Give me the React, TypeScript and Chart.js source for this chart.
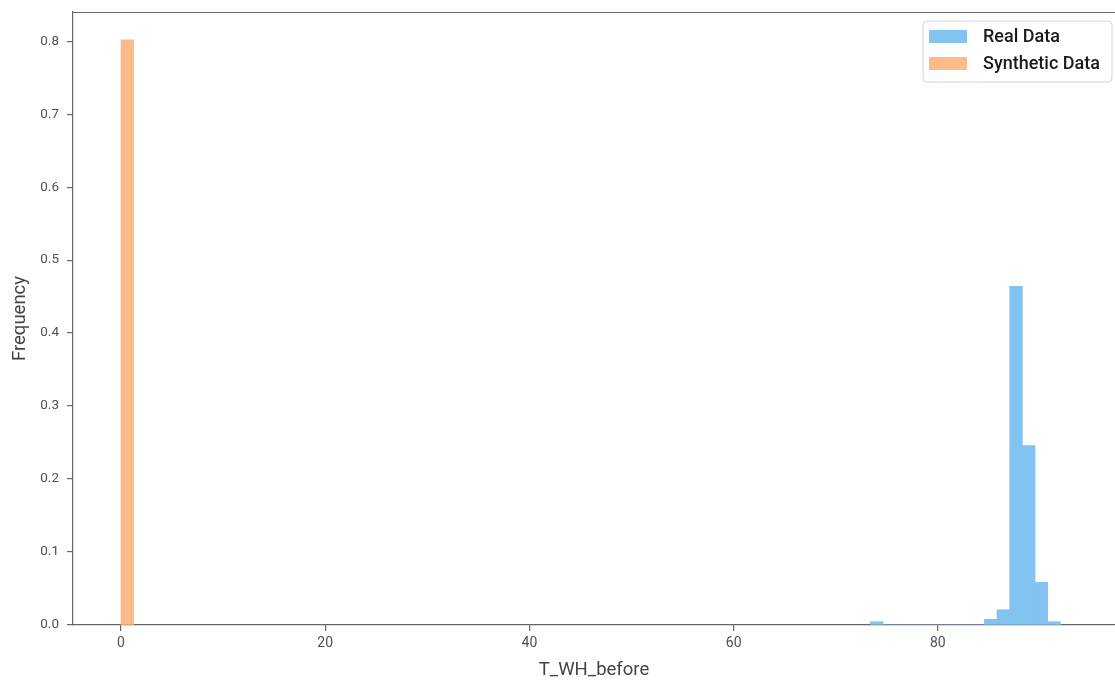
import { useEffect, useRef } from "react";
import { Chart, registerables } from "chart.js";

Chart.register(...registerables);

// Histogram bins (density-normalised) for T_WH_before
const realBinEdges = [
  73.4, 74.64, 75.88, 77.12, 78.36, 79.6, 80.84, 82.08, 83.32, 84.56, 85.8,
  87.04, 88.28, 89.52, 90.76, 92.0,
];
const realFrequency = [
  0.0045, 0, 0, 0, 0, 0, 0, 0, 0, 0.0078, 0.021, 0.464, 0.2457, 0.0584, 0.0045,
];
const syntheticBinEdges = [0, 1.24];
const syntheticFrequency = [0.802];

const xTickValues = [0, 20, 40, 60, 80];
const yTickValues = [0, 0.1, 0.2, 0.3, 0.4, 0.5, 0.6, 0.7, 0.8];
const seriesNames = ["Real Data", "Synthetic Data"];

const REAL_COLOR = "rgb(130, 195, 242)";
const SYNTH_COLOR = "rgb(255, 186, 140)";
const AXIS_COLOR = "#666666";
const TICK_TEXT = "#505050";
const TITLE_TEXT = "#444444";

const toBars = (edges: number[], values: number[]) =>
  values.map((v, i) => ({ x: (edges[i] + edges[i + 1]) / 2, y: v }));

// Top spine of the plotting frame
const topSpine = {
  id: "topSpine",
  afterDraw(chart: any) {
    const { ctx, chartArea } = chart;
    ctx.save();
    ctx.strokeStyle = AXIS_COLOR;
    ctx.lineWidth = 1.2;
    ctx.beginPath();
    ctx.moveTo(chartArea.left, Math.round(chartArea.top) + 0.5);
    ctx.lineTo(chartArea.right, Math.round(chartArea.top) + 0.5);
    ctx.stroke();
    ctx.restore();
  },
};

// Framed legend in the upper-right corner of the plot
const framedLegend = {
  id: "framedLegend",
  afterDraw(chart: any) {
    const { ctx, chartArea } = chart;
    const w = 189;
    const h = 61;
    const x = chartArea.right - 192;
    const y = chartArea.top + 9;
    ctx.save();
    ctx.beginPath();
    const r = 4;
    ctx.moveTo(x + r, y);
    ctx.lineTo(x + w - r, y);
    ctx.quadraticCurveTo(x + w, y, x + w, y + r);
    ctx.lineTo(x + w, y + h - r);
    ctx.quadraticCurveTo(x + w, y + h, x + w - r, y + h);
    ctx.lineTo(x + r, y + h);
    ctx.quadraticCurveTo(x, y + h, x, y + h - r);
    ctx.lineTo(x, y + r);
    ctx.quadraticCurveTo(x, y, x + r, y);
    ctx.closePath();
    ctx.fillStyle = "rgba(255,255,255,0.85)";
    ctx.fill();
    ctx.strokeStyle = "#d4d4d4";
    ctx.lineWidth = 1;
    ctx.stroke();

    const colors = [REAL_COLOR, SYNTH_COLOR];
    ctx.font = "500 18px Roboto";
    ctx.textBaseline = "middle";
    ctx.textAlign = "left";
    seriesNames.forEach((name, i) => {
      const rowY = y + 9 + i * 27;
      ctx.fillStyle = colors[i];
      ctx.fillRect(x + 6, rowY, 38, 13);
      ctx.fillStyle = "#1a1a1a";
      ctx.fillText(name, x + 60, rowY + 7);
    });
    ctx.restore();
  },
};

export default function App() {
  const canvasRef = useRef<HTMLCanvasElement | null>(null);

  useEffect(() => {
    const canvas = canvasRef.current;
    if (!canvas) return;
    const chart = new Chart(canvas, {
      type: "bar",
      data: {
        datasets: [
          {
            label: seriesNames[0],
            data: toBars(realBinEdges, realFrequency),
            backgroundColor: REAL_COLOR,
            borderWidth: 0,
            grouped: false,
            barPercentage: 1,
            categoryPercentage: 1,
          },
          {
            label: seriesNames[1],
            data: toBars(syntheticBinEdges, syntheticFrequency),
            backgroundColor: SYNTH_COLOR,
            borderWidth: 0,
            grouped: false,
            barPercentage: 1,
            categoryPercentage: 1,
          },
        ] as any,
      },
      options: {
        animation: false,
        responsive: false,
        layout: { padding: { top: 12, right: 0, bottom: 0, left: 0 } },
        plugins: {
          legend: { display: false },
          tooltip: { enabled: false },
        },
        scales: {
          x: {
            type: "linear",
            offset: false,
            min: -4.7,
            max: 97.35,
            afterFit: (s: any) => {
              s.height = 57;
              s.paddingLeft = 0;
              s.paddingRight = 0;
            },
            afterBuildTicks: (s: any) => {
              s.ticks = xTickValues.map((v) => ({ value: v }));
            },
            grid: {
              display: true,
              offset: false,
              drawOnChartArea: false,
              drawTicks: true,
              tickLength: 6,
              color: AXIS_COLOR,
              lineWidth: 1.2,
            },
            border: { display: true, color: AXIS_COLOR, width: 1.2 },
            ticks: {
              font: { family: "Roboto", size: 14 },
              color: TICK_TEXT,
              padding: 4,
              maxRotation: 0,
              autoSkip: false,
              callback: (v: any) => String(v),
            },
            title: {
              display: true,
              text: "T_WH_before",
              font: { family: "Roboto", size: 18.5 },
              color: TITLE_TEXT,
              padding: { top: 0, bottom: 1 },
            },
          },
          y: {
            type: "linear",
            min: 0,
            max: 0.84,
            afterFit: (s: any) => {
              s.width = 73;
              s.paddingTop = 0;
              s.paddingBottom = 0;
            },
            afterBuildTicks: (s: any) => {
              s.ticks = yTickValues.map((v) => ({ value: v }));
            },
            grid: {
              display: true,
              drawOnChartArea: false,
              drawTicks: true,
              tickLength: 6,
              color: AXIS_COLOR,
              lineWidth: 1.2,
            },
            border: { display: true, color: AXIS_COLOR, width: 1.2 },
            ticks: {
              font: { family: "Roboto", size: 13.5 },
              color: TICK_TEXT,
              padding: 8,
              autoSkip: false,
              callback: (v: any) => Number(v).toFixed(1),
            },
            title: {
              display: true,
              text: "Frequency",
              font: { family: "Roboto", size: 18.5 },
              color: TITLE_TEXT,
              padding: { top: 9, bottom: 0 },
            },
          },
        },
      },
      plugins: [topSpine, framedLegend],
    });
    return () => chart.destroy();
  }, []);

  return (
    <div
      style={{
        position: "absolute",
        left: 0,
        top: 0,
        width: 1115,
        height: 682,
        background: "#ffffff",
      }}
    >
      <canvas
        ref={canvasRef}
        width={1115}
        height={682}
        style={{ display: "block" }}
      />
    </div>
  );
}
